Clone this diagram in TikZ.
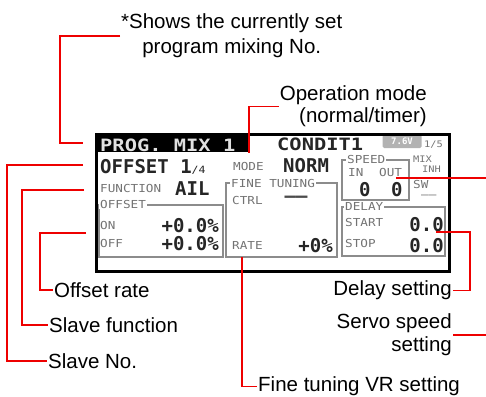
\documentclass[tikz,border=0pt]{standalone}
\usepackage{fontspec}
\setmainfont{Liberation Sans}
\newfontfamily\lcdfont{DejaVu Sans Mono}
\newfontfamily\lcdwide{DejaVu Sans Mono}[FakeStretch=1.2]
\newfontfamily\lcdsmall{DejaVu Sans Mono}[FakeStretch=1.15]
\definecolor{callred}{RGB}{238,0,0}
\begin{document}
\begin{tikzpicture}[x=1pt,y=-1pt,
  lbl/.style={font=\fontsize{20.5}{22}\selectfont, inner sep=1pt},
  big/.style={font=\lcdfont\bfseries\fontsize{19}{19}\selectfont, inner sep=0pt, text=black!85},
  ttl/.style={font=\lcdwide\bfseries\fontsize{17}{17}\selectfont, inner sep=0pt},
  sm/.style={font=\lcdsmall\fontsize{11}{11}\selectfont, inner sep=0pt, text=black!55},
  tiny/.style={sm, font=\lcdsmall\fontsize{9}{9}\selectfont},
  smtag/.style={sm, fill=white, inner sep=1pt},
  lcdbox/.style={draw=black!45, line width=1.3pt},
  callout/.style={draw=callred, line width=1.6pt}
]
\useasboundingbox (0,0) rectangle (486,396);
\clip (0,0) rectangle (486,396);

% ---------- LCD screen ----------
\fill[black] (96,134) rectangle (248,152);
\node[ttl, text=black!12, anchor=base west] (title) at (100,151) {PROG. MIX 1};
\node[ttl, text=black!85, anchor=base west] (cond) at (277,150) {CONDIT1};
\node[fill=black!30, rounded corners=1.5pt, minimum width=39pt, minimum height=13pt,
      inner sep=0pt, font=\lcdfont\bfseries\fontsize{9}{9}\selectfont, text=white] (batt) at (402,141.5) {7.6V};
\node[tiny, anchor=base west] (page) at (424,147) {1/5};

\node[big, anchor=base west] (offset) at (100,173) {OFFSET 1{\lcdsmall\mdseries\fontsize{10}{10}\selectfont /4}};
\node[sm, anchor=base west] (mode) at (233,170) {MODE};
\node[big, anchor=base west] (norm) at (283,172) {NORM};
\node[sm, anchor=base west] (func) at (100,192) {FUNCTION};
\node[big, anchor=base west] (ail) at (175,195) {AIL};

% offset box
\draw[lcdbox] (99,205) rectangle (223,257);
\node[smtag, anchor=base west] (offtag) at (99,208) {OFFSET};
\node[sm, anchor=base west] (on) at (100,229) {ON};
\node[big, anchor=base east] (onval) at (219,232) {+0.0\%};
\node[sm, anchor=base west] (off) at (100,247) {OFF};
\node[big, anchor=base east] (offval) at (219,250) {+0.0\%};

% fine tuning box
\draw[lcdbox] (226,183) rectangle (337,257);
\node[smtag, anchor=base west] (finetag) at (230,187) {FINE TUNING};
\node[sm, anchor=base west] (ctrl) at (232,204) {CTRL};
\node[big, text=black!70] (ctrlval) at (296,199) {——};
\node[sm, anchor=base west] (rate) at (232,249) {RATE};
\node[big, anchor=base east] (rateval) at (333,252) {+0\%};

% speed box
\draw[lcdbox] (342,160) rectangle (409,200);
\node[smtag, anchor=base west] (speedtag) at (346,163) {SPEED};
\node[sm, anchor=base west] (in) at (348,176) {IN};
\node[sm, anchor=base west] (out) at (379,176) {OUT};
\node[big, anchor=base west] (inval) at (359,196) {0};
\node[big, anchor=base west] (outval) at (391,196) {0};
\node[tiny, anchor=base west] (mix) at (413,162) {MIX};
\node[tiny, anchor=base west] (inh) at (422,172) {INH};
\node[sm, anchor=base west] (sw) at (413,188) {SW};
\node[sm, anchor=west] (swval) at (421,197) {——};

% delay box
\draw[lcdbox] (342,207) rectangle (445,256);
\node[smtag, anchor=base west] (delaytag) at (344,210) {DELAY};
\node[sm, anchor=base west] (start) at (345,226) {START};
\node[big, anchor=base east] (startval) at (444,231) {0.0};
\node[sm, anchor=base west] (stop) at (345,247) {STOP};
\node[big, anchor=base east] (stopval) at (444,252) {0.0};

% screen frame
\draw[black, line width=3pt] (96,134.5) rectangle (449,271);

% ---------- callout targets ----------
\coordinate (tTitle) at (83,143);
\coordinate (tMode) at (249,153);
\coordinate (tSlaveNo) at (83,165);
\coordinate (tFunc) at (84,190);
\coordinate (tOffRate) at (86,233);
\coordinate (tFine) at (242,257);
\coordinate (tDelay) at (436,232);
\coordinate (tSpeed) at (396,178);

% ---------- labels ----------
\node[lbl, font=\fontsize{20.5}{25}\selectfont, align=center, anchor=west] (shows) at (120,36)
  {*Shows the currently set\\program mixing No.};
\node[lbl, align=right, anchor=east] (opmode) at (428,106.5)
  {Operation mode\\(normal/timer)};
\node[lbl, anchor=west] (offrate) at (53,290) {Offset rate};
\node[lbl, anchor=west] (slavefn) at (48,325) {Slave function};
\node[lbl, anchor=west] (slaveno) at (47,361) {Slave No.};
\node[lbl, anchor=west] (finevr) at (257,386.5) {Fine tuning VR setting};
\node[lbl, anchor=east] (delay) at (453,290.5) {Delay setting};
\node[lbl, font=\fontsize{20.5}{23}\selectfont, align=right, anchor=east] (servo) at (453,335)
  {Servo speed\\setting};

% ---------- connectors ----------
\draw[callout] (shows.west) -- ++(-60,0) |- (tTitle);
\draw[callout] (opmode.west) -| (tMode);
\draw[callout] (tSlaveNo) -- ++(-76,0) |- (slaveno.west);
\draw[callout] (tFunc) -- ++(-62,0) |- (slavefn.west);
\draw[callout] (tOffRate) -- ++(-46,0) |- (offrate.west);
\draw[callout] (tFine) |- (finevr.west);
\draw[callout] (tDelay) -- ++(34,0) |- (delay.east);
\draw[callout] (tSpeed) -- ++(92,0) |- (servo.east);
\end{tikzpicture}
\end{document}
